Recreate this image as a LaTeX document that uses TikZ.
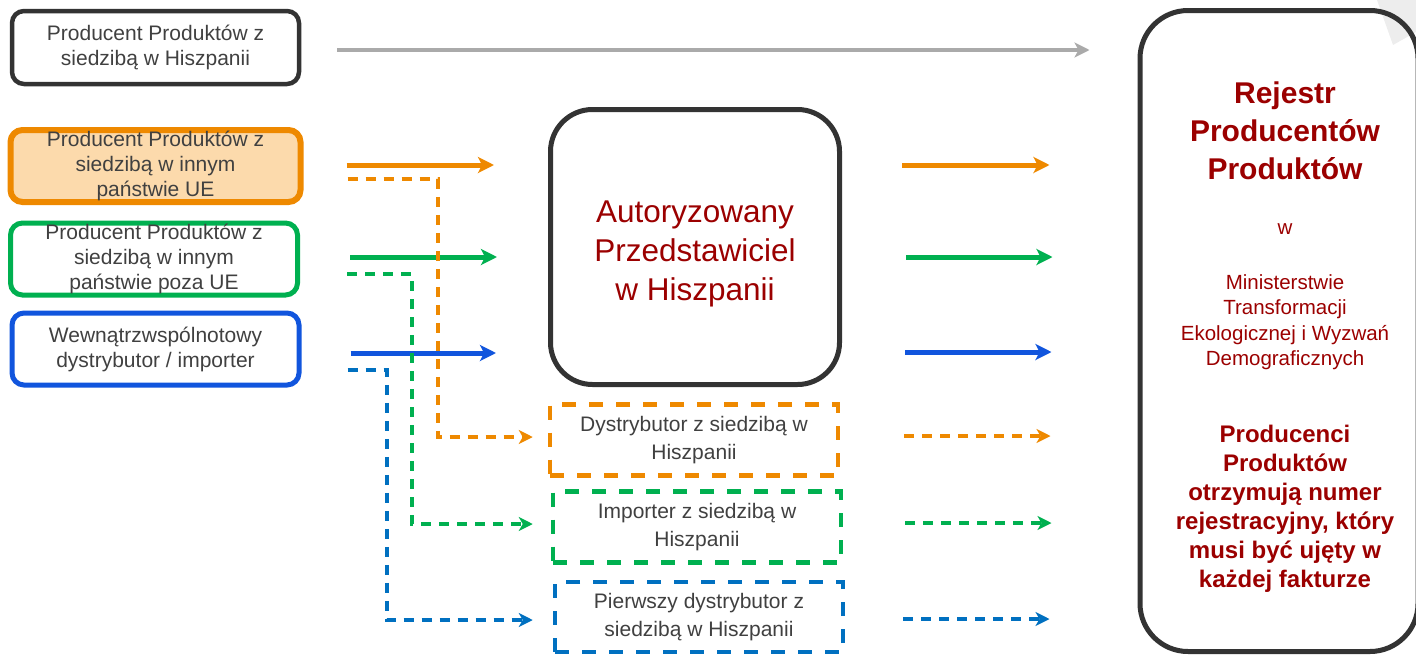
\documentclass[tikz,border=0pt]{standalone}
\usepackage{fontspec}
\setmainfont{Liberation Sans}
\usetikzlibrary{arrows.meta}

\definecolor{cOrange}{RGB}{238,137,0}
\definecolor{cOrangeFill}{RGB}{252,218,172}
\definecolor{cGreen}{RGB}{0,176,80}
\definecolor{cBlue}{RGB}{17,85,221}
\definecolor{cBlueDash}{RGB}{0,112,192}
\definecolor{cFrame}{RGB}{51,51,51}
\definecolor{cText}{RGB}{64,64,64}
\definecolor{cRed}{RGB}{155,0,0}
\definecolor{cGrey}{RGB}{170,170,170}

\tikzset{
  prodbox/.style={draw, rounded corners=12pt, line width=5pt, minimum width=287pt, minimum height=72pt, inner sep=0pt, align=center, text=cText, font=\fontsize{21}{25}\selectfont},
  repbox/.style={draw, dash pattern=on 14pt off 13pt, line width=4.5pt, minimum width=288pt, minimum height=71pt, inner sep=0pt, align=center, text=cText, font=\fontsize{21}{28}\selectfont},
  fullarr/.style={line width=5pt, -{Stealth[length=16pt, width=16pt, inset=4pt]}},
  dasharr/.style={line width=3.5pt, dash pattern=on 10pt off 8pt, -{Stealth[length=14pt, width=14pt, inset=4pt]}},
  redtext/.style={text=cRed, align=center, inner sep=0pt}
}

\begin{document}
\begin{tikzpicture}[x=1pt,y=-1pt]
\clip (0,0) rectangle (1416,656);
\fill[black!7] (1377,0) -- (1393,45) -- (1416,32) -- (1416,0) -- cycle;

% producers
\node[prodbox, draw=cFrame, line width=4.5pt, minimum height=73pt] (pSpain) at (155.5,47.5) {Producent Produktów z\\siedzibą w Hiszpanii};
\node[prodbox, draw=cOrange, fill=cOrangeFill, line width=6pt, minimum width=290pt] (pEU) at (155.5,166) {Producent Produktów z\\siedzibą w innym\\państwie UE};
\node[prodbox, draw=cGreen] (pNonEU) at (154,259) {Producent Produktów z\\siedzibą w innym\\państwie poza UE};
\node[prodbox, draw=cBlue] (pDist) at (155.5,349) {Wewnątrzwspólnotowy\\dystrybutor / importer};

% representatives
\node[draw=cFrame, line width=5pt, rounded corners=42pt, minimum width=289pt, minimum height=275pt] (auth) at (695,247) {};
\node[redtext, font=\fontsize{31.5}{39}\selectfont] (authLbl) at ([yshift=-7pt]auth.center) {Autoryzowany\\Przedstawiciel\\w Hiszpanii};
\node[repbox, draw=cOrange] (dDistr) at (694,440) {Dystrybutor z siedzibą w\\Hiszpanii};
\node[repbox, draw=cGreen] (dImp) at (697,527) {Importer z siedzibą w\\Hiszpanii};
\node[repbox, draw=cBlueDash, minimum height=70pt] (dFirst) at (699,617) {Pierwszy dystrybutor z\\siedzibą w Hiszpanii};

% register
\node[draw=cFrame, line width=5pt, rounded corners=48pt, minimum width=278pt, minimum height=641pt, inner sep=0pt] (reg) at (1279,331) {};
\node[redtext, font=\bfseries\fontsize{30}{38}\selectfont] (regTitle) at (1285,131) {Rejestr\\Producentów\\Produktów};
\node[redtext, font=\fontsize{20.5}{25}\selectfont] (regIn) at (1285,229) {w};
\node[redtext, font=\fontsize{20.5}{25.5}\selectfont] (regMin) at (1285,322) {Ministerstwie\\Transformacji\\Ekologicznej i Wyzwań\\Demograficznych};
\node[redtext, font=\bfseries\fontsize{24}{29}\selectfont] (regNote) at (1285,509) {Producenci\\Produktów\\otrzymują numer\\rejestracyjny, który\\musi być ujęty w\\każdej fakturze};

% arrows
\draw[cGrey, line width=4pt, -{Stealth[length=15pt, width=15pt, inset=4pt]}, shorten <=36pt, shorten >=48pt] ([yshift=-2.5pt]pSpain.east) -- ([yshift=-2.5pt]pSpain.east -| reg.west);

\draw[fullarr, cOrange, shorten <=43pt, shorten >=54pt] ([yshift=1pt]pEU.east) -- ([yshift=1pt]pEU.east -| auth.west);
\draw[fullarr, cGreen, shorten <=50pt, shorten >=51pt] ([yshift=2pt]pNonEU.east) -- ([yshift=2pt]pNonEU.east -| auth.west);
\draw[fullarr, cBlue, shorten <=49pt, shorten >=52pt] ([yshift=-4pt]pDist.east) -- ([yshift=-4pt]pDist.east -| auth.west);

\draw[dasharr, cOrange] ([xshift=44pt,yshift=-13pt]pEU.east) -| ([xshift=-110pt,yshift=3pt]dDistr.west) -- ([xshift=-15pt,yshift=3pt]dDistr.west);
\draw[dasharr, cGreen] ([xshift=47pt,yshift=-15pt]pNonEU.east) -| ([xshift=-139pt,yshift=3pt]dImp.west) -- ([xshift=-18pt,yshift=3pt]dImp.west);
\draw[dasharr, cBlueDash] ([xshift=46pt,yshift=-21pt]pDist.east) -| ([xshift=-166pt,yshift=-3pt]dFirst.west) -- ([xshift=-20pt,yshift=-3pt]dFirst.west);

\draw[fullarr, cOrange, shorten <=60pt, shorten >=88pt] ([yshift=1pt]auth.east |- pEU.east) -- ([yshift=1pt]reg.west |- pEU.east);
\draw[fullarr, cGreen, shorten <=64pt, shorten >=85pt] ([yshift=2pt]auth.east |- pNonEU.east) -- ([yshift=2pt]reg.west |- pNonEU.east);
\draw[fullarr, cBlue, shorten <=63pt, shorten >=86pt] ([yshift=-3pt]auth.east |- pDist.east) -- ([yshift=-3pt]reg.west |- pDist.east);

\draw[dasharr, cOrange, shorten <=64pt, shorten >=87pt] ([yshift=4pt]dDistr.east) -- ([yshift=4pt]dDistr.east -| reg.west);
\draw[dasharr, cGreen, shorten <=62pt, shorten >=86pt] ([yshift=4pt]dImp.east) -- ([yshift=4pt]dImp.east -| reg.west);
\draw[dasharr, cBlueDash, shorten <=58pt, shorten >=88pt] ([yshift=-2pt]dFirst.east) -- ([yshift=-2pt]dFirst.east -| reg.west);
\end{tikzpicture}
\end{document}
